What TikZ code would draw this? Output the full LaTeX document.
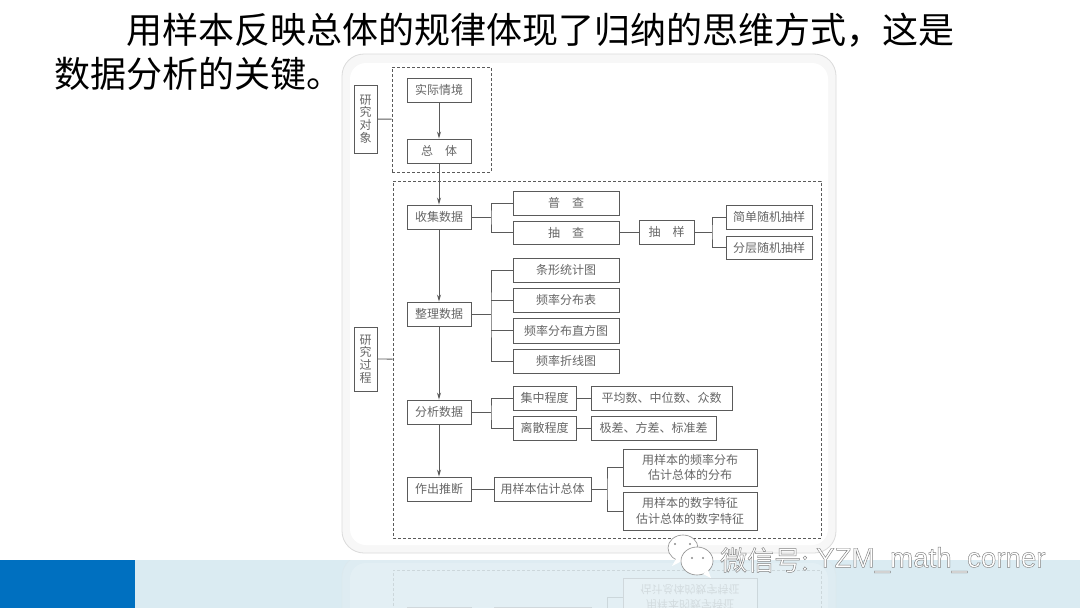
\documentclass[tikz,border=0pt]{standalone}
\usepackage{fontspec}
\setmainfont{Noto Sans CJK SC}
\newfontfamily\latinwm{Liberation Sans}
\usetikzlibrary{arrows.meta}
\definecolor{ink}{HTML}{5A5A5A}
\definecolor{boxtext}{HTML}{666666}
\definecolor{bandblue}{HTML}{0070C0}
\definecolor{bandlight}{HTML}{DAEBF2}
\tikzset{
  bx/.style={draw=ink,line width=0.9pt,fill=white,inner sep=0pt,align=center,text=boxtext,font=\fontsize{12}{15.5}\selectfont,execute at begin node={\vspace*{1.8pt}}},
  vbx/.style={bx,font=\fontsize{12}{12.6}\selectfont},
  dashbox/.style={draw=ink,line width=0.8pt,dash pattern=on 3pt off 2pt,inner sep=0pt},
  link/.style={draw=ink,line width=0.9pt},
  arr/.style={link,-{Stealth[length=7pt,width=4pt]}},
  heading/.style={anchor=west,inner sep=0pt,text=black,font=\fontsize{36}{40}\selectfont},
  panelouter/.style={draw=black!14,line width=0.8pt,fill=black!3,rounded corners=22pt},
  panelinner/.style={fill=white,rounded corners=16pt},
  wmtext/.style={anchor=west,inner sep=0pt,text=white,font=\fontsize{27}{30}\selectfont},
  wmlatin/.style={anchor=west,inner sep=0pt,text=white,font=\latinwm\fontsize{27.7}{30}\selectfont},
  wmbubble/.style={draw=black!45,line width=0.6pt,fill=white},
}
\newcommand{\outlined}[1]{\special{pdf:code 2 Tr 0.45 w 0.5 G}#1\special{pdf:code 0 Tr 0 w}}
\newcommand{\bx}[6]{%
  \node[bx,minimum width={(#4-#2)*1pt},minimum height={(#5-#3)*1pt}] (#1) at ({(#2+#4)/2},{(#3+#5)/2}) {#6};}
\newcommand{\vbx}[6]{%
  \node[vbx,minimum width={(#4-#2)*1pt},minimum height={(#5-#3)*1pt}] (#1) at ({(#2+#4)/2},{(#3+#5)/2}) {#6};}
\newcommand{\dbx}[5]{%
  \node[dashbox,minimum width={(#4-#2)*1pt},minimum height={(#5-#3)*1pt}] (#1) at ({(#2+#4)/2},{(#3+#5)/2}) {};}
\begin{document}
\begin{tikzpicture}[x=1pt,y=-1pt]
  \useasboundingbox (0,0) rectangle (1080,608);
  \fill[white] (0,0) rectangle (1080,608);
  % bottom band
  \fill[bandlight] (135,560) rectangle (1080,608);
  \fill[bandblue] (0,560) rectangle (135,608);
  % reflection of the lower part of the chart in the band
  \begin{scope}
    \clip (135,560) rectangle (1080,608);
    \begin{scope}[yshift=-1108pt,yscale=-1,transform shape,opacity=0.16]
      \draw[panelouter] (342,300) rectangle (836,553);
      \fill[panelinner] (350,300) rectangle (828,545);
      \dbx{rdb}{393}{300}{821}{538}
      \bx{rzc}{407}{477}{471}{501}{}
      \bx{rgj}{494}{477}{591}{501}{}
      \bx{rsz}{623}{492}{757}{530}{\fontsize{11}{13.5}\selectfont 用样本的数字特征\\\fontsize{11}{13.5}\selectfont 估计总体的数字特征}
      \coordinate (rj) at (607,489);
      \draw[link] (rsz.west) -| (rj);
    \end{scope}
  \end{scope}
  % the chart
  \draw[panelouter] (342,54) rectangle (836,553);
  \fill[panelinner] (350,63) rectangle (828,545);
  \dbx{da}{392}{67}{491}{172}
  \dbx{db}{393}{181}{821}{538}
  \vbx{yjdx}{354}{85}{377}{153}{研\\究\\对\\象}
  \vbx{yjgc}{354}{327}{377}{391}{研\\究\\过\\程}
  \bx{sjqj}{407}{78}{471}{102}{实际情境}
  \bx{zt}{407}{139}{471}{163}{总\quad 体}
  \bx{sjsj}{407}{205}{471}{229}{收集数据}
  \bx{zlsj}{407}{302}{471}{326}{整理数据}
  \bx{fxsj}{407}{400}{471}{424}{分析数据}
  \bx{zctd}{407}{477}{471}{501}{作出推断}
  \bx{pc}{513}{191}{619}{215}{普\quad 查}
  \bx{cc}{513}{221}{619}{244}{抽\quad 查}
  \bx{cy}{639}{220}{694}{244}{抽\quad 样}
  \bx{jd}{726}{205}{812}{229}{简单随机抽样}
  \bx{fc}{726}{236}{812}{259}{分层随机抽样}
  \bx{tx}{513}{258}{619}{282}{条形统计图}
  \bx{pb}{513}{288}{619}{312}{频率分布表}
  \bx{zf}{513}{318}{619}{343}{频率分布直方图}
  \bx{zx}{513}{349}{619}{373}{频率折线图}
  \bx{jz}{513}{386}{576}{410}{集中程度}
  \bx{ls}{513}{416}{576}{440}{离散程度}
  \bx{pj}{591}{386}{732}{410}{平均数、中位数、众数}
  \bx{jc}{591}{416}{716}{440}{极差、方差、标准差}
  \bx{gj}{494}{477}{591}{501}{用样本估计总体}
  \bx{fb}{623}{449}{757}{486}{用样本的频率分布\\估计总体的分布}
  \bx{sz}{623}{492}{757}{530}{用样本的数字特征\\估计总体的数字特征}
  \coordinate (j1) at (491,217);
  \coordinate (j2) at (712,232);
  \coordinate (j3) at (491,314);
  \coordinate (j4) at (491,412);
  \coordinate (j5) at (607,489);
  \draw[link] (yjdx) -- (da);
  \draw[link] (yjgc) -- (db);
  \draw[arr] (sjqj) -- (zt);
  \draw[arr] (zt) -- (sjsj);
  \draw[arr] (sjsj) -- (zlsj);
  \draw[arr] (zlsj) -- (fxsj);
  \draw[arr] (fxsj) -- (zctd);
  \draw[link] (sjsj.east) -- (j1);
  \draw[link] (pc.west) -| (j1) |- (cc.west);
  \draw[link] (cc.east) -- (cy.west |- cc.east);
  \draw[link] (cy.east) -- (j2);
  \draw[link] (jd.west) -| (j2) |- (fc.west);
  \draw[link] (zlsj.east) -- (j3);
  \draw[link] (tx.west) -| (j3) |- (zx.west);
  \draw[link] (pb.west) -- (j3 |- pb.west);
  \draw[link] (zf.west) -- (j3 |- zf.west);
  \draw[link] (fxsj.east) -- (j4);
  \draw[link] (jz.west) -| (j4) |- (ls.west);
  \draw[link] (jz) -- (pj);
  \draw[link] (ls) -- (jc);
  \draw[link] (zctd) -- (gj);
  \draw[link] (gj.east) -- (j5);
  \draw[link] (fb.west) -| (j5) |- (sz.west);
  % heading
  \node[heading] (h1) at (126,30) {用样本反映总体的规律体现了归纳的思维方式，这是};
  \node[heading] (h2) at (54,74) {数据分析的关键。};
  % watermark
  \fill[wmbubble,fill=white] (683,548) ellipse (15 and 13);
  \fill[white] (676,559) -- (672,566) -- (684,560) -- cycle;
  \draw[wmbubble] (697,561) ellipse (16 and 14);
  \fill[white] (703,574) -- (711,578) -- (708,570) -- cycle;
  \fill[black!45] (675,544) circle (1.1) (690,544) circle (1.1) (692,558) circle (1.1) (703,558) circle (1.1);
  \node[wmtext] (w1) at (720,560) {\outlined{微信号:}};
  \node[wmlatin] (w2) at (816,560) {\outlined{YZM\_math\_corner}};
\end{tikzpicture}
\end{document}
